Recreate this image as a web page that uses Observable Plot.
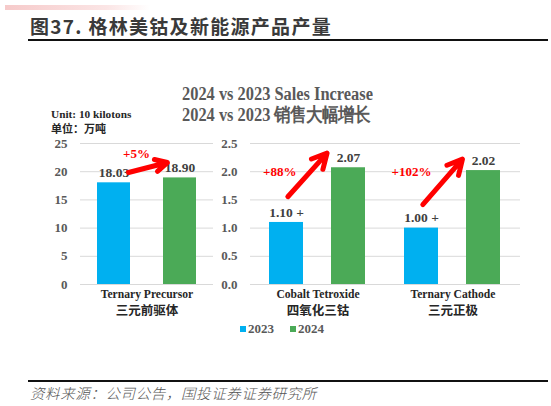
<!DOCTYPE html>
<html><head><meta charset="utf-8">
<script src="https://cdn.jsdelivr.net/npm/d3@7"></script>
<script src="https://cdn.jsdelivr.net/npm/@observablehq/plot@0.6"></script>
<style>
body{margin:0;background:#fff;}
#root{position:relative;width:551px;height:406px;overflow:hidden;background:#fff;font-family:"Liberation Serif",serif;}
.abs{position:absolute;white-space:nowrap;}
.plot{position:absolute;}
</style></head><body><div id="root"></div>
<script>
// ---- data ----
const years = ["2023", "2024"];
const leftCategories = ["Ternary Precursor"];
const leftCategoriesCN = ["三元前驱体"];
const rightCategories = ["Cobalt Tetroxide", "Ternary Cathode"];
const rightCategoriesCN = ["四氧化三钴", "三元正极"];
const leftValues2023 = [18.03];
const leftValues2024 = [18.90];
const rightValues2023 = [1.10, 1.00];
const rightValues2024 = [2.07, 2.02];
const leftLabels2023 = ["18.03"];
const leftLabels2024 = ["18.90"];
const rightLabels2023 = ["1.10 +", "1.00 +"];
const rightLabels2024 = ["2.07", "2.02"];
const leftPct = ["+5%"];
const rightPct = ["+88%", "+102%"];
const leftPctY = [23.1];
const rightPctY = [2.0, 2.0];
const leftArrowFrom = [19.2];
const leftArrowTo = [22.2];
const rightArrowFrom = [1.53, 1.39];
const rightArrowTo = [2.75, 2.65];
const leftTicks = [0, 5, 10, 15, 20, 25];
const rightTicks = [0, 0.5, 1.0, 1.5, 2.0, 2.5];
const colors = ["#00B0F0", "#4BAA57"];

const root = document.getElementById("root");
function add(html, css) {
  const d = document.createElement("div");
  d.className = "abs";
  d.innerHTML = html;
  Object.assign(d.style, css);
  root.appendChild(d);
  return d;
}

// header decorations
add("", {left: "5px", top: "5px", width: "145px", height: "5px", background: "linear-gradient(to right, #f6caca, #fbe5e5 70%, #ffffff)"});
add("图37. 格林美钴及新能源产品产量", {left: "30px", top: "14px", fontFamily: "'Noto Sans CJK SC'", fontSize: "19px", fontWeight: "600", color: "#3a3a3a", letterSpacing: "1.3px", lineHeight: "24px"});
add("", {left: "28px", top: "39px", width: "520px", height: "2px", background: "#111"});
add("2024 vs 2023 Sales Increase", {left: "182px", top: "83px", fontSize: "16.4px", fontWeight: "bold", color: "#595959", lineHeight: "20px", transform: "scaleY(1.15)", transformOrigin: "left top"});
add("2024 vs 2023 销售大幅增长", {left: "182px", top: "104px", fontSize: "16.4px", fontWeight: "bold", color: "#595959", lineHeight: "20px", transform: "scaleY(1.15)", transformOrigin: "left top"});
add("Unit: 10 kilotons", {left: "51px", top: "108px", fontSize: "11.3px", fontWeight: "bold", color: "#262626", lineHeight: "13px"});
add("单位：万吨", {left: "51px", top: "122px", fontSize: "11px", fontWeight: "bold", color: "#262626", lineHeight: "13px", fontFamily: "'Noto Sans CJK SC'"});

function panel(cats, catsCN, v23, v24, l23, l24, pct, pctY, aFrom, aTo, ticks, fmt, opts) {
  const rows = [];
  cats.forEach((c, i) => {
    rows.push({cat: c, year: years[0], value: v23[i], label: l23[i]});
    rows.push({cat: c, year: years[1], value: v24[i], label: l24[i]});
  });
  const catRows = cats.map((c, i) => ({cat: c, cn: catsCN[i]}));
  const pctRows = cats.map((c, i) => ({cat: c, pct: pct[i], y: pctY[i]}));
  const arrowRows = cats.map((c, i) => ({cat: c, from: aFrom[i], to: aTo[i]}));
  return Plot.plot({
    width: opts.width, height: 200,
    marginTop: 13, marginBottom: 46, marginLeft: opts.marginLeft, marginRight: opts.marginRight,
    fx: {domain: cats, padding: 0, axis: null},
    x: {domain: years, paddingInner: opts.pi, paddingOuter: opts.po, axis: null},
    y: {domain: [ticks[0], ticks[ticks.length - 1]]},
    color: {domain: years, range: colors},
    style: {fontFamily: "Liberation Serif", fontWeight: "bold", fontSize: "13px", color: "#595959", background: "transparent", overflow: "visible"},
    marks: [
      Plot.gridY(ticks, {stroke: "#d9d9d9", strokeOpacity: 1, strokeWidth: 1}),
      Plot.axisY(ticks, {tickSize: 0, tickPadding: 13, tickFormat: fmt, fontSize: 13}),
      Plot.barY(rows, {fx: "cat", x: "year", y: "value", fill: "year"}),
      Plot.text(rows, {fx: "cat", x: "year", y: "value", text: "label", dy: -10, fill: "#404040", fontSize: 13.5}),
      Plot.arrow(arrowRows, {fx: "cat", x1: () => years[0], x2: () => years[1], y1: "from", y2: "to", stroke: "#ff0000", strokeWidth: 5, headLength: opts.headLength, headAngle: 55, insetStart: opts.insetStart, insetEnd: opts.insetEnd}),
      Plot.text(pctRows, {fx: "cat", x: () => years[0], y: "y", text: "pct", fill: "#ff0000", fontSize: 13, textAnchor: opts.pctAnchor, dx: opts.pctDx}),
      Plot.text(catRows, {fx: "cat", text: "cat", frameAnchor: "bottom", dy: 13, fill: "#262626", fontSize: 11.6}),
      Plot.text(catRows, {fx: "cat", text: "cn", frameAnchor: "bottom", dy: 30, fill: "#262626", fontSize: 12.5, fontFamily: "Noto Sans CJK SC"})
    ]
  });
}

const leftPlot = panel(leftCategories, leftCategoriesCN, leftValues2023, leftValues2024, leftLabels2023, leftLabels2024,
  leftPct, leftPctY, leftArrowFrom, leftArrowTo, leftTicks, d3.format("d"),
  {width: 220, marginLeft: 80, marginRight: 7, pi: 0.5, po: 0.25, insetStart: 15, insetEnd: 13, headLength: 4, pctAnchor: "start", pctDx: 9});
leftPlot.classList.add("plot");
Object.assign(leftPlot.style, {left: "0px", top: "130px"});
root.appendChild(leftPlot);

const rightPlot = panel(rightCategories, rightCategoriesCN, rightValues2023, rightValues2024, rightLabels2023, rightLabels2024,
  rightPct, rightPctY, rightArrowFrom, rightArrowTo, rightTicks, d3.format(".1f"),
  {width: 331, marginLeft: 30, marginRight: 31, pi: 0.45, po: 0.31, insetStart: 2, insetEnd: 32, headLength: 5, pctAnchor: "end", pctDx: 10});
rightPlot.classList.add("plot");
Object.assign(rightPlot.style, {left: "220px", top: "130px"});
root.appendChild(rightPlot);

// legend
years.forEach((y, i) => {
  const x = 240 + i * 50;
  add("", {left: x + "px", top: "326px", width: "6px", height: "6px", background: colors[i]});
  add(y, {left: (x + 8) + "px", top: "321px", fontSize: "13px", fontWeight: "bold", color: "#595959", lineHeight: "16px"});
});

// footer
add("", {left: "28px", top: "380px", width: "520px", height: "2px", background: "#111"});
add("资料来源：公司公告，国投证券证券研究所", {left: "30px", top: "384px", fontFamily: "'Noto Sans CJK SC'", fontSize: "14.5px", fontStyle: "italic", fontWeight: "300", color: "#555", lineHeight: "18px", letterSpacing: "0.6px"});
</script></body></html>
